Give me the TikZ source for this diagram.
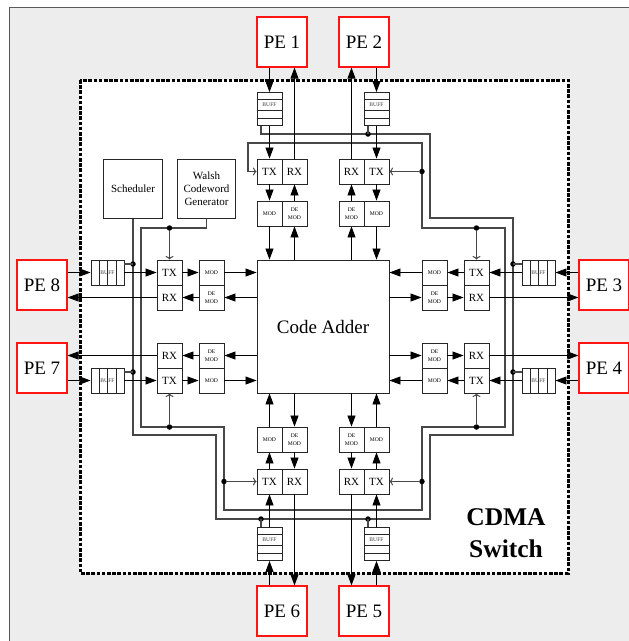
\documentclass[tikz,border=0pt]{standalone}
\usepackage{fontspec}
\setmainfont{Liberation Serif}
\usetikzlibrary{arrows.meta,calc}
\begin{document}
\begin{tikzpicture}[x=1pt,y=-1pt,
  pebox/.style={draw=red!92!white, line width=1.2pt, fill=white, minimum width=50pt, minimum height=50pt, inner sep=0pt, font=\fontsize{19}{21}\selectfont},
  unit/.style={draw=black!85, line width=0.9pt, fill=white, minimum width=25pt, minimum height=25pt, inner sep=0pt, font=\fontsize{11}{13}\selectfont},
  modbox/.style={unit, font=\fontsize{5.6}{7.4}\selectfont, align=center},
  vbuf/.style={draw=black!85, line width=0.9pt, fill=white, minimum width=25pt, minimum height=33pt, inner sep=0pt},
  hbuf/.style={vbuf, minimum width=33pt, minimum height=25pt},
  cell/.style={draw=black!85, line width=0.8pt},
  bufftxt/.style={inner sep=0pt, text=black!75, font=\fontsize{5.6}{6}\selectfont},
  ctrlbox/.style={draw=black!85, line width=0.9pt, fill=white, minimum width=58.4pt, minimum height=59pt, inner sep=0pt, align=center, font=\fontsize{11}{13}\selectfont},
  flow/.style={line width=0.8pt, -{Triangle[length=11pt,width=8pt]}},
  ring/.style={draw=black!72, line width=1.25pt},
  ctl/.style={draw=black!72, line width=1pt, -{To[length=3.5pt,width=8pt]}},
  jdot/.style={circle, fill=black, inner sep=0pt, minimum size=5.5pt},
]
\useasboundingbox (0,0) rectangle (629,641);
\clip (0,0) rectangle (629,641);
% background
\fill[black!7] (9,7) rectangle (700,700);
\draw[black!65, line width=0.9pt] (9,700) -- (9,7) -- (700,7);
% switch frame
\draw[fill=white, line width=3pt, dash pattern=on 3.6pt off 1.6pt] (80,80) rectangle (568,573);

% control boxes
\node[ctrlbox] (sched) at (133,188.8) {Scheduler};
\node[ctrlbox] (walsh) at (206.5,188.8) {Walsh\\Codeword\\Generator};

% rings
\draw[ring] (sched.south) -- (133,435) -- (216,435) -- (216,519) -- (430,519) -- (430,435) -- (513,435) -- (513,218) -- (430,218) -- (430,134) -- (261,134) -- (261,126);
\coordinate (wEnd) at (248,171.5);
\draw[ring] (walsh.south) -- (walsh.south |- 0,228) -- (141,228) -- (141,427) -- (224,427) -- (224,510) -- (422,510) -- (422,427) -- (505,427) -- (505,228) -- (422,228) -- (422,143) -- (248,143) -- (wEnd);

% code adder
\node[draw=black!85, line width=0.9pt, fill=white, minimum width=132pt, minimum height=133pt, inner sep=0pt, font=\fontsize{19}{21}\selectfont] (ca) at (323,326.5) {Code Adder};

% PEs
\node[pebox] (pe1) at (282,42) {PE 1};
\node[pebox] (pe2) at (364,42) {PE 2};
\node[pebox] (pe3) at (604,285) {PE 3};
\node[pebox] (pe4) at (604,368) {PE 4};
\node[pebox] (pe5) at (364,611) {PE 5};
\node[pebox] (pe6) at (282,611) {PE 6};
\node[pebox] (pe7) at (42,368) {PE 7};
\node[pebox] (pe8) at (42,285) {PE 8};

% buffers
\node[vbuf] (b1) at (269.5,109) {};
\node[vbuf] (b2) at (376.5,109) {};
\node[vbuf] (b5) at (376.5,544) {};
\node[vbuf] (b6) at (269.5,544) {};
\node[hbuf] (b3) at (538.5,272.5) {};
\node[hbuf] (b4) at (538.5,380.5) {};
\node[hbuf] (b7) at (107.5,380.5) {};
\node[hbuf] (b8) at (107.5,272.5) {};
\foreach \b in {b1,b2,b5,b6}{
  \foreach \f in {0.21,0.55,0.78}
    \draw[cell] ($(\b.north west)!\f!(\b.south west)$) -- ($(\b.north east)!\f!(\b.south east)$);
  \node[bufftxt] at ($(\b.north)!0.38!(\b.south)$) {BUFF};
}
\foreach \b in {b3,b4,b7,b8}{
  \foreach \f in {0.25,0.5,0.75}
    \draw[cell] ($(\b.north west)!\f!(\b.north east)$) -- ($(\b.south west)!\f!(\b.south east)$);
  \node[bufftxt] at (\b.center) {BUFF};
}

% TX / RX
\node[unit] (tx1) at (269.5,171.5) {TX};
\node[unit] (rx1) at (294.5,171.5) {RX};
\node[unit] (rx2) at (351.5,171.5) {RX};
\node[unit] (tx2) at (376.5,171.5) {TX};
\node[unit] (tx6) at (269.5,481.5) {TX};
\node[unit] (rx6) at (294.5,481.5) {RX};
\node[unit] (rx5) at (351.5,481.5) {RX};
\node[unit] (tx5) at (376.5,481.5) {TX};
\node[unit] (tx8) at (169.5,272.5) {TX};
\node[unit] (rx8) at (169.5,297.5) {RX};
\node[unit] (rx7) at (169.5,355.5) {RX};
\node[unit] (tx7) at (169.5,380.5) {TX};
\node[unit] (tx3) at (476.5,272.5) {TX};
\node[unit] (rx3) at (476.5,297.5) {RX};
\node[unit] (rx4) at (476.5,355.5) {RX};
\node[unit] (tx4) at (476.5,380.5) {TX};

% MOD / DEMOD
\node[modbox] (m1) at (269.5,213.5) {MOD};
\node[modbox] (d1) at (294.5,213.5) {DE\\MOD};
\node[modbox] (d2) at (351.5,213.5) {DE\\MOD};
\node[modbox] (m2) at (376.5,213.5) {MOD};
\node[modbox] (m6) at (269.5,439.5) {MOD};
\node[modbox] (d6) at (294.5,439.5) {DE\\MOD};
\node[modbox] (d5) at (351.5,439.5) {DE\\MOD};
\node[modbox] (m5) at (376.5,439.5) {MOD};
\node[modbox] (m8) at (211.5,272.5) {MOD};
\node[modbox] (d8) at (211.5,297.5) {DE\\MOD};
\node[modbox] (d7) at (211.5,355.5) {DE\\MOD};
\node[modbox] (m7) at (211.5,380.5) {MOD};
\node[modbox] (m3) at (434.5,272.5) {MOD};
\node[modbox] (d3) at (434.5,297.5) {DE\\MOD};
\node[modbox] (d4) at (434.5,355.5) {DE\\MOD};
\node[modbox] (m4) at (434.5,380.5) {MOD};

% data flow
\foreach \p/\outw/\inw in {1/north/south,2/north/south,3/east/west,4/east/west,5/south/north,6/south/north,7/west/east,8/west/east}{
  \draw[flow] ($(b\p.\outw)!(pe\p.\inw)!(b\p.\inw)$) -- (b\p.\outw);
  \draw[flow] (b\p.\inw) -- (tx\p.\outw);
  \draw[flow] (tx\p.\inw) -- (m\p.\outw);
  \draw[flow] (m\p.\inw) -- ($(m\p.\outw)!(ca.\outw)!(m\p.\inw)$);
  \draw[flow] ($(d\p.\outw)!(ca.\outw)!(d\p.\inw)$) -- (d\p.\inw);
  \draw[flow] (d\p.\outw) -- (rx\p.\inw);
  \draw[flow] (rx\p.\outw) -- ($(rx\p.\outw)!(pe\p.\inw)!(rx\p.\inw)$);
}

% scheduler taps to buffers
\node[jdot] (s8) at (133,264) {};
\node[jdot] (s7) at (133,372) {};
\node[jdot] (s6) at (261,519) {};
\node[jdot] (s5) at (368,519) {};
\node[jdot] (s4) at (513,372) {};
\node[jdot] (s3) at (513,264) {};
\node[jdot] (s2) at (368,134) {};
\draw[ring] (s8.center) -- (b8.east |- s8);
\draw[ring] (s7.center) -- (b7.east |- s7);
\draw[ring] (s6.center) -- (s6 |- b6.north);
\draw[ring] (s5.center) -- (s5 |- b5.north);
\draw[ring] (s4.center) -- (b4.west |- s4);
\draw[ring] (s3.center) -- (b3.west |- s3);
\draw[ring] (s2.center) -- (s2 |- b2.south);

% Walsh code taps to transmitters
\node[jdot] (w8) at (169.5,228) {};
\node[jdot] (w7) at (169.5,427) {};
\node[jdot] (w6) at (224,481.5) {};
\node[jdot] (w5) at (422,481.5) {};
\node[jdot] (w4) at (476.5,427) {};
\node[jdot] (w3) at (476.5,228) {};
\node[jdot] (w2) at (422,171.5) {};
\draw[ctl] (w8) -- (tx8.north);
\draw[ctl] (w7) -- (tx7.south);
\draw[ctl] (w6) -- (tx6.west);
\draw[ctl] (w5) -- (tx5.east);
\draw[ctl] (w4) -- (tx4.south);
\draw[ctl] (w3) -- (tx3.north);
\draw[ctl] (w2) -- (tx2.east);
\draw[ctl] (wEnd) -- (tx1.west);

% title
\node[font=\bfseries\fontsize{25.5}{32.6}\selectfont, align=center, inner sep=0pt] (title) at (506,533) {CDMA\\Switch};
\end{tikzpicture}
\end{document}
